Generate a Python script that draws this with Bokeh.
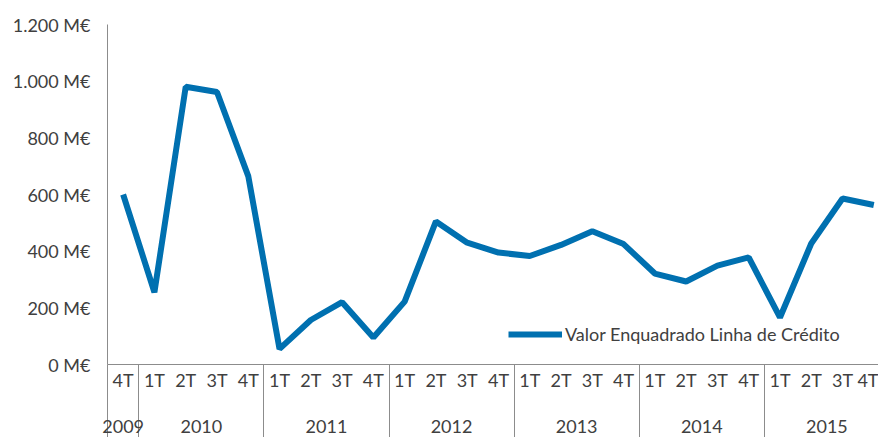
from bokeh.plotting import figure
from bokeh.models import Range1d, FixedTicker, LinearAxis, Legend, LegendItem, ColumnDataSource
from bokeh.embed import file_html
from bokeh.resources import INLINE

# ---- data ----
quarters = ["4T",
            "1T", "2T", "3T", "4T",
            "1T", "2T", "3T", "4T",
            "1T", "2T", "3T", "4T",
            "1T", "2T", "3T", "4T",
            "1T", "2T", "3T", "4T",
            "1T", "2T", "3T", "4T"]
years = ["2009",
         "2010", "2010", "2010", "2010",
         "2011", "2011", "2011", "2011",
         "2012", "2012", "2012", "2012",
         "2013", "2013", "2013", "2013",
         "2014", "2014", "2014", "2014",
         "2015", "2015", "2015", "2015"]
values = [600,
          255, 980, 962, 665,
          55, 157, 220, 95,
          222, 505, 430, 395,
          383, 422, 470, 425,
          321, 293, 349, 378,
          166, 427, 586, 563]
y_ticks = [0, 200, 400, 600, 800, 1000, 1200]
y_tick_labels = ["0 M€", "200 M€", "400 M€", "600 M€", "800 M€", "1.000 M€", "1.200 M€"]
series_name = "Valor Enquadrado Linha de Crédito"

# ---- derived positions ----
idx = list(range(len(values)))
year_order = []
for yv in years:
    if yv not in year_order:
        year_order.append(yv)
year_centers = []
boundaries = []
for yv in year_order:
    members = [i for i, yy in enumerate(years) if yy == yv]
    year_centers.append(sum(members) / len(members))
    boundaries.append(members[0] - 0.5)

FONT = "Lato"
FSIZE = "18px"
TXT = "#404040"
GRAY = "#8c8c8c"
BLUE = "#0070B0"

p = figure(width=878, height=437,
           x_range=Range1d(-0.5, 24.15), y_range=Range1d(0, 1200),
           output_backend="svg", toolbar_location=None,
           x_axis_location=None, y_axis_location=None,
           min_border_left=107, min_border_right=0,
           min_border_top=24, min_border_bottom=73)
p.outline_line_color = None
p.grid.grid_line_color = None
p.background_fill_color = "white"
p.border_fill_color = "white"

src = ColumnDataSource(dict(x=idx, y=values))
r = p.line("x", "y", source=src, line_width=6, line_color=BLUE)

yax = LinearAxis(ticker=FixedTicker(ticks=y_ticks),
                 major_label_overrides=dict(zip(y_ticks, y_tick_labels)),
                 major_tick_in=0, major_tick_out=0,
                 minor_tick_in=0, minor_tick_out=0,
                 major_label_standoff=17,
                 axis_line_color=GRAY, axis_line_width=1,
                 major_label_text_font=FONT,
                 major_label_text_font_size=FSIZE,
                 major_label_text_color=TXT)
p.add_layout(yax, "left")

# quarter row; the minor ticks (drawn downward) are the group separators
qax = LinearAxis(ticker=FixedTicker(ticks=idx, minor_ticks=boundaries),
                 major_label_overrides=dict(zip(idx, quarters)),
                 major_tick_in=0, major_tick_out=0,
                 minor_tick_in=-73, minor_tick_out=0,
                 minor_tick_line_color=GRAY,
                 major_label_standoff=4,
                 axis_line_color=GRAY, axis_line_width=1,
                 major_label_text_font=FONT,
                 major_label_text_font_size=FSIZE,
                 major_label_text_color=TXT)
p.add_layout(qax, "below")

yrax = LinearAxis(ticker=FixedTicker(ticks=year_centers, minor_ticks=[]),
                  major_label_overrides=dict(zip(year_centers, year_order)),
                  major_tick_in=0, major_tick_out=0,
                  minor_tick_in=0, minor_tick_out=0,
                  major_label_standoff=26,
                  axis_line_color=None,
                  major_tick_line_color=None,
                  major_label_text_font=FONT,
                  major_label_text_font_size=FSIZE,
                  major_label_text_color=TXT)
p.add_layout(yrax, "below")

legend = Legend(items=[LegendItem(label=series_name, renderers=[r])],
                location=(401, 19), padding=0, margin=0, spacing=0,
                border_line_color=None, background_fill_alpha=0,
                glyph_width=54, glyph_height=20, label_height=20,
                label_standoff=3,
                label_text_font=FONT, label_text_font_size=FSIZE,
                label_text_color=TXT)
p.add_layout(legend)

open("out.html", "w").write(file_html(p, INLINE))
